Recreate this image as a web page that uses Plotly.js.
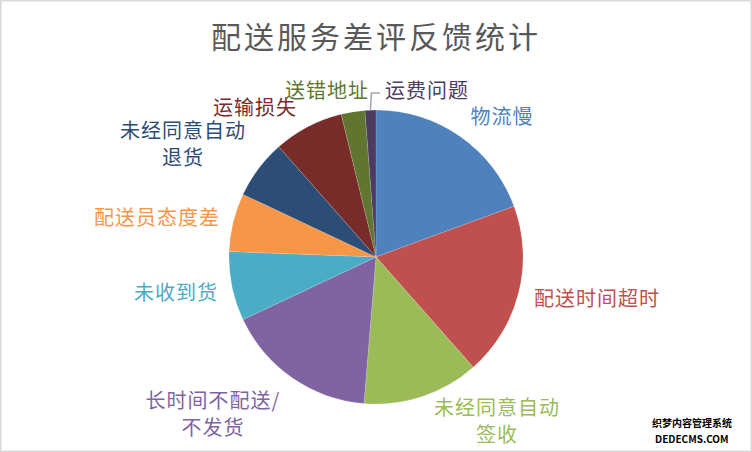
<!DOCTYPE html>
<html><head><meta charset="utf-8">
<script src="https://cdn.plot.ly/plotly-3.0.1.min.js"></script>
<style>html,body{margin:0;padding:0;background:#fff;overflow:hidden}
.gtitle{letter-spacing:3px}
</style>
</head><body><div id="chart" style="width:752px;height:452px"></div>
<script>
const categories = ["物流慢","配送时间超时","未经同意自动签收","长时间不配送/不发货","未收到货","配送员态度差","未经同意自动退货","运输损失","送错地址","运费问题"];
const labelLines = [["物流慢"],["配送时间超时"],["未经同意自动","签收"],["长时间不配送/","不发货"],["未收到货"],["配送员态度差"],["未经同意自动","退货"],["运输损失"],["送错地址"],["运费问题"]];
const values = [19.4,19.1,12.8,16.7,7.6,6.4,6.5,7.7,2.6,1.2];
const colors = ["#4F81BD","#C0504D","#9BBB59","#8064A2","#4BACC6","#F79646","#2C4D75","#772C2A","#5F7530","#4D3B62"];
const chartTitle = "配送服务差评反馈统计";
const watermark = ["织梦内容管理系统","DEDECMS.COM"];

// layout helpers (pixel geometry, not data)
const W = 752, H = 452;
const CX = 376, CY = 257, R = 147;
const labelPx = [[502,115],[597,297],[497,420],[213,413],[176,291],[157,216],[183,143],[255,106],[327,89],[427,89]];
const LINE = 27;
const px = x => x / W, py = y => 1 - y / H;

const annotations = [];
labelLines.forEach((lines, i) => {
  const n = lines.length;
  lines.forEach((t, k) => {
    const yy = labelPx[i][1] + (k - (n - 1) / 2) * LINE;
    annotations.push({
      text: t, x: px(labelPx[i][0]), y: py(yy), xref: 'paper', yref: 'paper',
      xanchor: 'center', yanchor: 'middle', showarrow: false, align: 'center',
      font: {family: '"Noto Sans CJK SC", sans-serif', size: 20, color: colors[i]}
    });
  });
});
watermark.forEach((t, k) => annotations.push({
  text: '<b>' + t + '</b>', x: px(692), y: py(422 + k * 16), xref: 'paper', yref: 'paper',
  xanchor: 'center', yanchor: 'middle', showarrow: false, align: 'center',
  font: {family: '"Noto Sans CJK SC", sans-serif', size: 10, color: '#000'}
}));

// leader line for last (small) slice, computed from data
const total = values.reduce((a, b) => a + b, 0);
let cum = 0; const mids = values.map(v => { const m = (cum + v / 2) / total * 360; cum += v; return m; });
const last = values.length - 1;
const a = mids[last] * Math.PI / 180;
const ex = CX + R * Math.sin(a), ey = CY - R * Math.cos(a);
const lx = labelPx[last][0] - 47, ly = labelPx[last][1] + 4;
const shapes = [
  {type: 'path', xref: 'paper', yref: 'paper',
   path: `M ${px(ex)} ${py(ey)} L ${px(ex + 1)} ${py(ly)} L ${px(lx)} ${py(ly)}`,
   line: {color: '#A6A6A6', width: 1.5}},
  {type: 'rect', xref: 'paper', yref: 'paper', x0: 0, x1: 1, y0: 0, y1: 1,
   line: {color: '#D9D9D9', width: 3}}
];

const trace = {
  type: 'pie', labels: categories, values: values, sort: false, direction: 'clockwise', rotation: 0,
  marker: {colors: colors, line: {color: 'rgba(255,255,255,0.3)', width: 0.5}},
  textinfo: 'none', hoverinfo: 'label+percent', showlegend: false,
  domain: {x: [px(CX - R), px(CX + R)], y: [py(CY + R), py(CY - R)]}
};

const layout = {
  width: W, height: H, margin: {l: 0, r: 0, t: 0, b: 0},
  paper_bgcolor: '#FFFFFF', plot_bgcolor: '#FFFFFF',
  title: {text: chartTitle, x: 0.5, xanchor: 'center', y: py(37), yanchor: 'middle', yref: 'paper',
          font: {family: '"Noto Sans CJK SC", sans-serif', size: 30, color: '#595959'}},
  annotations: annotations, shapes: shapes, showlegend: false
};
Plotly.newPlot('chart', [trace], layout, {displayModeBar: false, staticPlot: true}).then(() => {
  document.querySelectorAll('.annotation-text').forEach((el, i) => {
    if (i < annotations.length - watermark.length) el.style.letterSpacing = '1px';
  });
});
</script></body></html>
